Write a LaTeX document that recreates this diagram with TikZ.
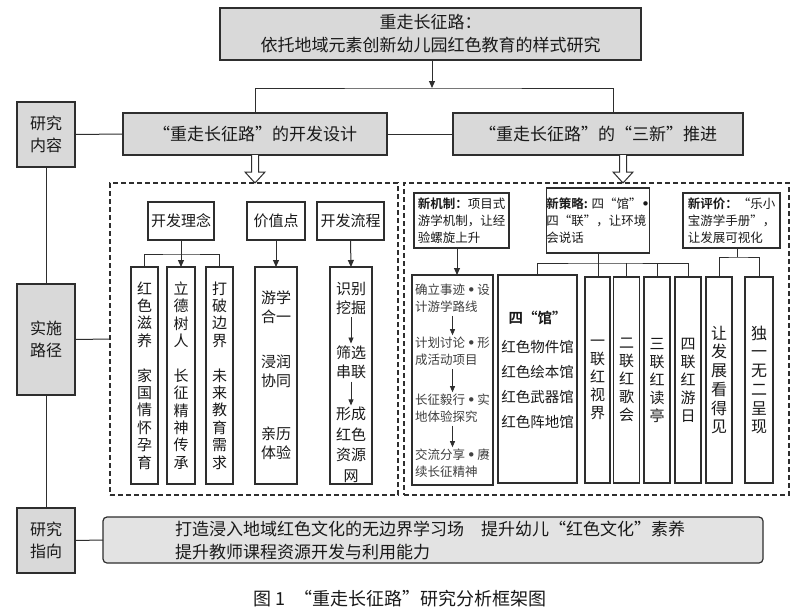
\documentclass[tikz,border=0pt]{standalone}
\usepackage{fontspec}
\setmainfont{Noto Sans CJK SC}[BoldFont={Noto Sans CJK SC Bold}]
\newfontfamily\bulletfont{DejaVu Sans}[BoldFont={DejaVu Sans Bold}]
\newcommand{\bdot}{{\bulletfont\bfseries •}}
\usetikzlibrary{arrows.meta,calc}
\definecolor{boxgray}{HTML}{D9D9D9}
\definecolor{linegray}{HTML}{2E2E2E}
\begin{document}
\begin{tikzpicture}[x=1pt,y=-1pt,
  every node/.style={inner sep=0pt, outer sep=0pt, text=black!90},
  graybox/.style={draw=linegray, fill=boxgray, line width=1.4pt},
  whitebox/.style={draw=linegray, fill=white, line width=1.2pt},
  conn/.style={draw=linegray, line width=1pt},
  arr/.style={conn, -{Triangle[length=7pt,width=6pt]}},
  smallarr/.style={conn, line width=0.8pt, shorten <=3pt, shorten >=2pt, -{Triangle[length=6pt,width=5pt]}},
  dashbox/.style={draw=linegray, line width=1.3pt, dash pattern=on 5pt off 3pt},
  hollow/.style={draw=linegray, fill=white, line width=1pt},
  fA/.style={font=\fontsize{17}{23}\selectfont},
  fL/.style={font=\fontsize{16}{22}\selectfont},
  fM/.style={font=\fontsize{15}{19}\selectfont},
  fV/.style={font=\fontsize{15}{17.4}\selectfont},
  fS/.style={font=\fontsize{12.5}{17}\selectfont},
  fG/.style={font=\fontsize{14.5}{25}\selectfont},
  fR/.style={font=\fontsize{15}{18}\selectfont},
  fE/.style={font=\fontsize{16}{18.7}\selectfont},
  fCap/.style={font=\fontsize{18}{22}\selectfont}
]
\useasboundingbox (0,0) rectangle (800,613);
\fill[white] (0,0) rectangle (800,613);

% top
\node[graybox, minimum width=421, minimum height=52, align=center, fA] (top) at (430.5,34) {重走长征路：\\依托地域元素创新幼儿园红色教育的样式研究};
\coordinate (bar) at (432,88);
\draw[arr] (top.south -| bar) -- (bar);

% second level
\node[graybox, minimum width=264, minimum height=42, fA] (dev) at (255,134) {“重走长征路”的开发设计};
\node[graybox, minimum width=290, minimum height=42, fA] (adv) at (598,134) {“重走长征路”的“三新”推进};
\draw[conn] (dev.north) |- (bar) -| ($(adv.north)+(15,0)$);

% left labels
\node[graybox, minimum width=58, minimum height=65, align=center, fL] (nr) at (46,134.5) {研究\\内容};
\node[graybox, minimum width=58, minimum height=111, align=center, fL] (lj) at (46,339.5) {实施\\路径};
\node[graybox, minimum width=58, minimum height=65, align=center, fL] (zx) at (46,540.5) {研究\\指向};
\draw[conn] (nr.south) -- (lj.north);
\draw[conn] (lj.south) -- (zx.north);
\draw[conn] (nr.east) -- (dev.west);
\draw[conn] (dev.east) -- (adv.west);

% dashed regions
\node[dashbox, minimum width=288, minimum height=312] (dl) at (254,339) {};
\node[dashbox, minimum width=385, minimum height=312] (dr) at (596.5,339) {};
\draw[conn] (lj.east) -- (dl.west);

% hollow arrows
\draw[hollow] ($(dev.south)+(-3.5,0)$) -- ++(0,17) -- ++(-6.5,0) -- ($(dev.south)+(0,28)$) -- ($(dev.south)+(10,17)$) -- ++(-6.5,0) -- ($(dev.south)+(3.5,0)$);
\draw[hollow] ($(adv.south)+(21.5,0)$) -- ++(0,17) -- ++(-6.5,0) -- ($(adv.south)+(25,28)$) -- ($(adv.south)+(35,17)$) -- ++(-6.5,0) -- ($(adv.south)+(28.5,0)$);

% left dashed contents
\node[whitebox, minimum width=66, minimum height=38, fM] (kf1) at (181,221) {开发理念};
\node[whitebox, minimum width=58, minimum height=38, fM] (jz) at (276,221) {价值点};
\node[whitebox, minimum width=67, minimum height=38, fM] (kf2) at (350.5,221) {开发流程};
\node[whitebox, minimum width=27, minimum height=217, align=center, fV] (v1) at (144.5,375.5) {红\\色\\滋\\养\\[17.4pt]家\\国\\情\\怀\\孕\\育};
\node[whitebox, minimum width=28, minimum height=217, align=center, fV] (v2) at (181,375.5) {立\\德\\树\\人\\[17.4pt]长\\征\\精\\神\\传\\承};
\node[whitebox, minimum width=27, minimum height=217, align=center, fV] (v3) at (219.5,375.5) {打\\破\\边\\界\\[17.4pt]未\\来\\教\\育\\需\\求};
\node[whitebox, minimum width=42, minimum height=217, align=center, font=\fontsize{15}{19}\selectfont] (v4) at (276,375.5) {游学\\合一\\[26pt]浸润\\协同\\[34pt]亲历\\体验};
\node[whitebox, minimum width=42, minimum height=217] (v5) at (351,375.5) {};
\coordinate (kbar) at ($(kf1.south)+(0,14)$);
\draw[conn] (v1.north) |- (kbar) -| (v3.north);
\draw[arr] (kf1.south) -- (v2.north);
\draw[arr] (jz.south) -- (v4.north);
\draw[arr] (kf2.south) -- (v5.north);
\node[align=center, font=\fontsize{15}{19}\selectfont] (s1) at (351,298) {识别\\挖掘};
\node[align=center, font=\fontsize{15}{19}\selectfont] (s2) at (351,362) {筛选\\串联};
\node[align=center, font=\fontsize{15}{20.5}\selectfont] (s3) at (351,445) {形成\\红色\\资源\\网};
\draw[smallarr] (s1.south) -- (s2.north);
\draw[smallarr] (s2.south) -- (s3.north);

% right dashed contents
\node[whitebox, minimum width=95, minimum height=55, align=left, fS] (xj) at (461.5,220.5) {\textbf{新机制：}项目式\\游学机制，让经\\验螺旋上升};
\node[whitebox, minimum width=98, minimum height=65, align=left, fS] (cl) at (598,220.5) {\textbf{新策略:} 四“馆”\bdot\\四“联”，让环境\\会说话};
\node[whitebox, minimum width=97, minimum height=55, align=left, fS] (pj) at (731.5,220.5) {\textbf{新评价：}“乐小\\宝游学手册”，\\让发展可视化};

\node[whitebox, minimum width=81, minimum height=210] (pr) at (452.5,380) {};
\draw[arr] ($(xj.south)+(-4.5,0)$) -- ($(pr.north)+(4.5,0)$);
\node[align=left, fS, text=black!75] (p1) at (452.5,298.5) {确立事迹\,\bdot\,设\\计游学路线};
\node[align=left, fS, text=black!75] (p2) at (452.5,351.5) {计划讨论\,\bdot\,形\\成活动项目};
\node[align=left, fS, text=black!75] (p3) at (452.5,408.5) {长征毅行\,\bdot\,实\\地体验探究};
\node[align=left, fS, text=black!75] (p4) at (452.5,463.5) {交流分享\,\bdot\,赓\\续长征精神};
\draw[smallarr] (p1.south) -- (p2.north);
\draw[smallarr] (p2.south) -- (p3.north);
\draw[smallarr] (p3.south) -- (p4.north);

\node[whitebox, minimum width=79, minimum height=208] (sg) at (537.5,379) {};
\node[align=center, fG] (sgt) at (537.5,370) {\textbf{四“馆”}\\[4pt]红色物件馆\\红色绘本馆\\红色武器馆\\红色阵地馆};

\node[whitebox, minimum width=25, minimum height=206, align=center, fR] (l1) at (597.5,380) {一\\联\\红\\视\\界};
\node[whitebox, minimum width=26, minimum height=206, align=center, fR] (l2) at (626.5,380) {二\\联\\红\\歌\\会};
\node[whitebox, minimum width=26, minimum height=206, align=center, fR] (l3) at (657,380) {三\\联\\红\\读\\亭};
\node[whitebox, minimum width=26, minimum height=206, align=center, fR] (l4) at (688,380) {四\\联\\红\\游\\日};
\node[whitebox, minimum width=26, minimum height=206, align=center, fE] (e1) at (719,380) {让\\发\\展\\看\\得\\见};
\node[whitebox, minimum width=28, minimum height=206, align=center, fE] (e2) at (759,380) {独\\一\\无\\二\\呈\\现};

\coordinate (clbar) at ($(cl.south)+(0,10)$);
\draw[conn] (cl.south) -- (cl.south |- l1.north);
\draw[conn] (sg.north) |- (clbar) -| (l4.north);
\draw[conn] (l2.north) -- (l2.north |- clbar);
\draw[conn] (l3.north) -- (l3.north |- clbar);
\coordinate (pjbar) at ($(pj.south)+(6,9)$);
\draw[conn] ($(pj.south)+(6,0)$) -- (pjbar);
\draw[conn] (e1.north) |- (pjbar) -| (e2.north);

% bottom
\node[draw=linegray, fill=gray!22, line width=1.2pt, rounded corners=4pt, minimum width=660, minimum height=46] (zxbox) at (433,540) {};
\node[anchor=west, align=left, fA] (zxtext) at (175,540) {打造浸入地域红色文化的无边界学习场\quad 提升幼儿“红色文化”素养\\提升教师课程资源开发与利用能力};
\draw[conn] (zx.east) -- (zxbox.west);

\node[fCap] (cap) at (400,599) {图 1\enspace“重走长征路”研究分析框架图};
\end{tikzpicture}
\end{document}
